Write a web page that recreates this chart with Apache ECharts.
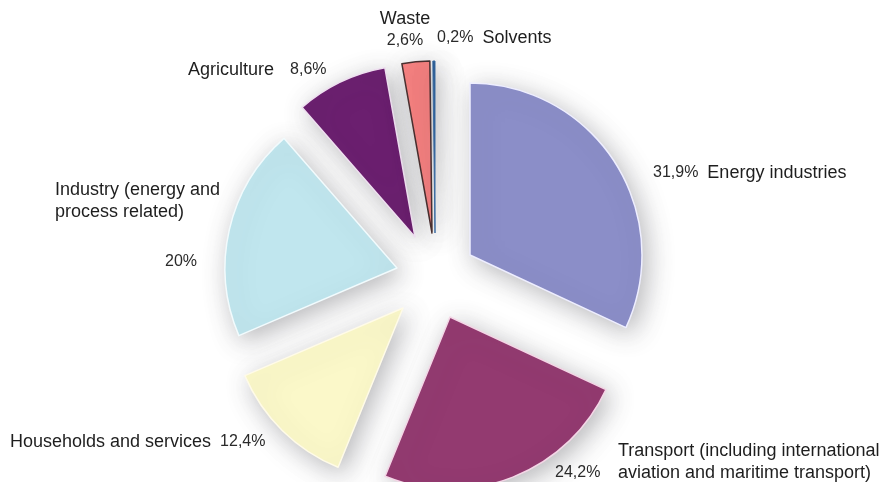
<!DOCTYPE html>
<html>
<head>
<meta charset="utf-8">
<script src="https://cdn.jsdelivr.net/npm/echarts@6/dist/echarts.min.js"></script>
<style>
html,body{margin:0;padding:0;background:#fff;}
#chart{width:887px;height:482px;}
</style>
</head>
<body>
<div id="chart"></div>
<script>
// ---- data ----
const categories = ['Energy industries', 'Transport (including international aviation and maritime transport)', 'Households and services', 'Industry (energy and process related)', 'Agriculture', 'Waste', 'Solvents'];
const shares = [31.9, 24.2, 12.4, 20, 8.6, 2.6, 0.2];
const colors = ['#8b8ec8', '#933a70', '#fbf8c9', '#c0e6ee', '#6b1f6f', '#f68180', '#24578f'];

// ---- layout / styling (not data) ----
const pct = v => String(v).replace('.', ',') + '%';
const nameFont = {fontFamily: 'Liberation Sans', fontSize: 18, color: '#1e1e1e'};
const pctFont = {fontFamily: 'Liberation Sans', fontSize: 16, color: '#2a2a2a'};

const sliceCfg = [
  {center: [470, 255], border: '#eef', label: {x: 653, y: 173, align: 'left', verticalAlign: 'middle'},
   fmt: (n, p) => '{p|' + p + '}{s8|}{n|' + n + '}'},
  {center: [450, 317], border: '#f4d6e6', label: {x: 555, y: 440, align: 'left', verticalAlign: 'top'},
   fmt: (n, p) => '{sp|}{n|Transport (including international}\n{pw|' + p + '}{n|aviation and maritime transport)}'},
  {center: [403, 308], border: '#fffbe8', label: {x: 10, y: 442, align: 'left', verticalAlign: 'middle'},
   fmt: (n, p) => '{n|' + n + '}{s8|}{p|' + p + '}'},
  {center: [397, 268], border: '#f2fbfd', label: {x: 55, y: 179, align: 'left', verticalAlign: 'top'},
   fmt: (n, p) => '{n|Industry (energy and}\n{n|process related)}\n{gap|}\n{sp2|}{p|' + p + '}'},
  {center: [415, 237], border: '#efe0f0', label: {x: 188, y: 70, align: 'left', verticalAlign: 'middle'},
   fmt: (n, p) => '{n|' + n + '}{s16|}{p|' + p + '}'},
  {center: [432, 233], border: '#4a3030', label: {x: 405, y: 8, align: 'center', verticalAlign: 'top'},
   fmt: (n, p) => '{n|' + n + '}\n{p|' + p + '}'},
  {center: [435, 233], border: '#3d6da3', label: {x: 437, y: 38, align: 'left', verticalAlign: 'middle'},
   fmt: (n, p) => '{p|' + p + '}{s8|}{n|' + n + '}'}
];

const rich = {
  n: Object.assign({lineHeight: 22}, nameFont),
  p: Object.assign({lineHeight: 22}, pctFont),
  pw: Object.assign({lineHeight: 22, width: 63}, pctFont),
  sp: {width: 63, lineHeight: 22},
  sp2: {width: 110, lineHeight: 22},
  s8: {width: 9, lineHeight: 22},
  s16: {width: 16, lineHeight: 22},
  gap: {height: 28, lineHeight: 28}
};

const series = sliceCfg.map((cfg, si) => ({
  type: 'pie',
  name: categories[si],
  center: cfg.center,
  radius: 172,
  startAngle: 90,
  clockwise: true,
  avoidLabelOverlap: false,
  silent: true,
  animation: false,
  label: {show: false},
  labelLine: {show: false},
  labelLayout: cfg.label,
  emphasis: {disabled: true},
  data: shares.map((v, i) => {
    if (i !== si) {
      return {name: categories[i], value: v,
        itemStyle: {color: 'rgba(0,0,0,0)', borderWidth: 0, shadowBlur: 0},
        label: {show: false}};
    }
    return {
      name: categories[i], value: v,
      itemStyle: {
        color: colors[i], borderColor: cfg.border, borderWidth: si === 6 ? 1 : 1.5,
        shadowBlur: 26, shadowColor: 'rgba(60,60,70,0.36)', shadowOffsetX: 5, shadowOffsetY: 6
      },
      label: {
        show: true, position: 'outside',
        formatter: () => cfg.fmt(categories[i], pct(v)),
        rich: rich
      }
    };
  })
}));

const chart = echarts.init(document.getElementById('chart'), null, {renderer: 'canvas'});
chart.setOption({
  backgroundColor: '#ffffff',
  animation: false,
  series: series
});
</script>
</body>
</html>
